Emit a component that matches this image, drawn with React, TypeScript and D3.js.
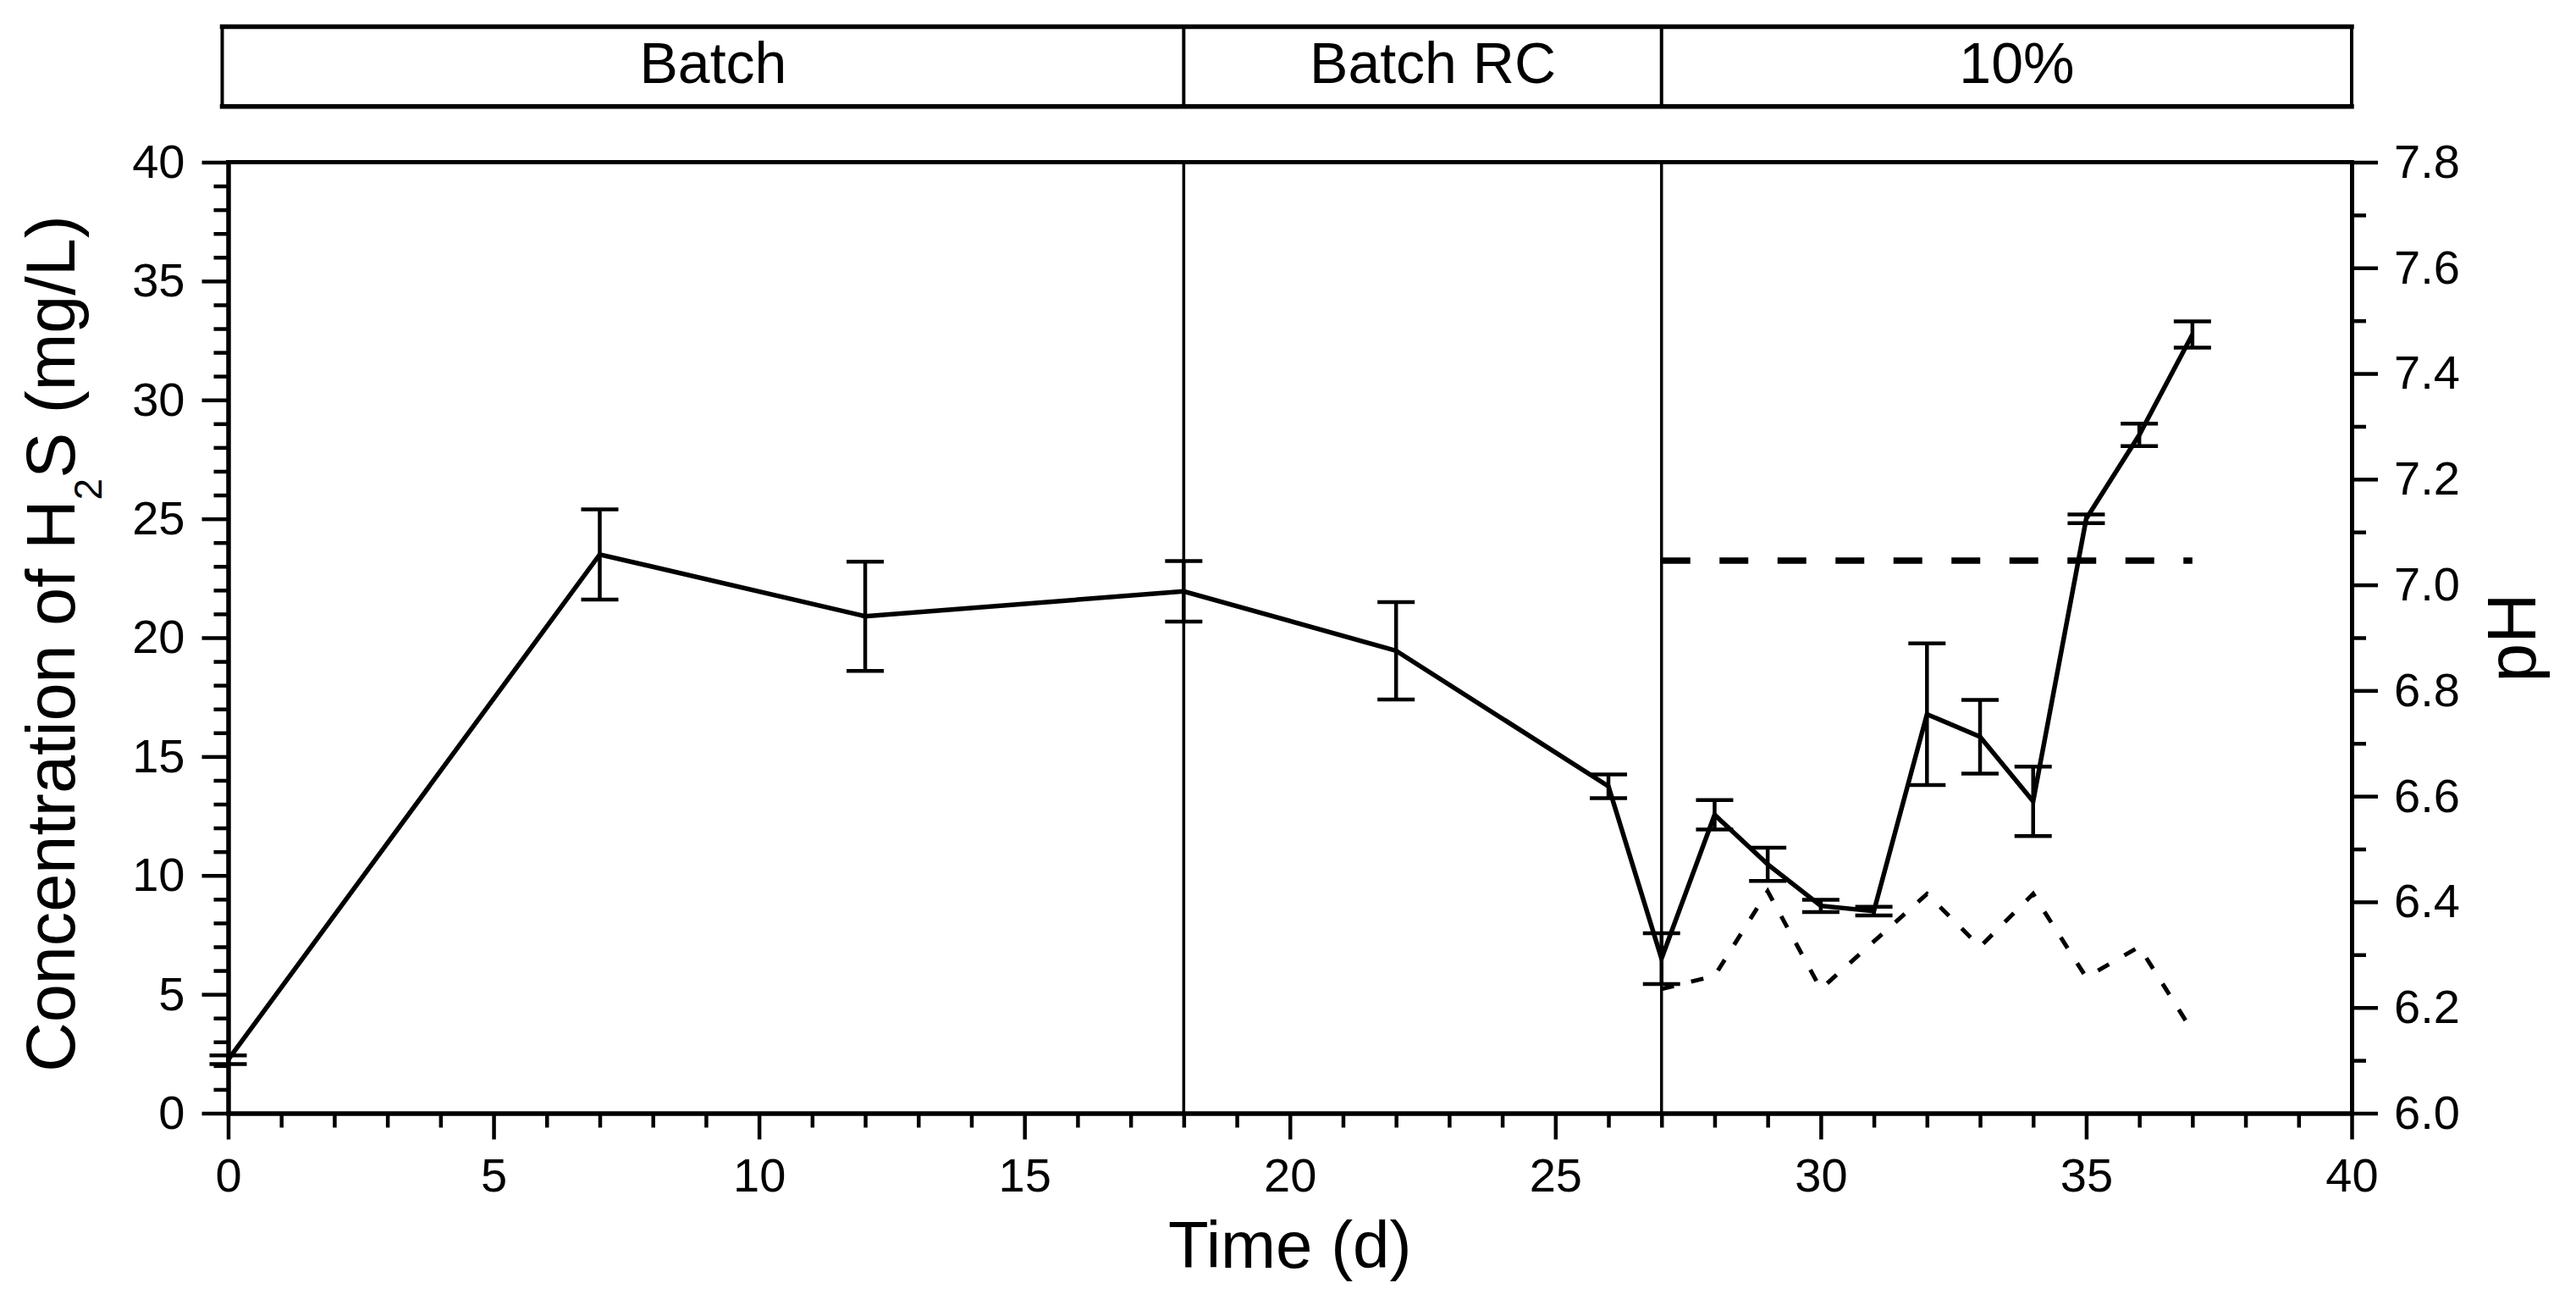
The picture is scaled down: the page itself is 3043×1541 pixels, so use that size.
import { useEffect, useRef } from 'react'
import * as d3 from 'd3'

// H2S concentration (mg/L), mean and error, per sampling day
const days = [0, 7, 12, 18, 22, 26, 27, 28, 29, 30, 31, 32, 33, 34, 35, 36, 37]
const h2s = [2.25, 23.5, 20.9, 21.95, 19.45, 13.75, 6.5, 12.55, 10.47, 8.72, 8.5, 16.78, 15.83, 13.12, 25.0, 28.53, 32.75]
const h2sErr = [0.18, 1.9, 2.3, 1.27, 2.05, 0.5, 1.07, 0.62, 0.7, 0.26, 0.18, 2.98, 1.55, 1.46, 0.18, 0.47, 0.55]

// pH (right axis)
const phDays = [27, 28, 29, 30, 31, 32, 33, 34, 35, 36, 37]
const ph = [6.235, 6.26, 6.42, 6.235, 6.325, 6.415, 6.315, 6.415, 6.257, 6.315, 6.155]

// pH set line
const setDays = [27, 37]
const setPH = [7.046, 7.046]

// operating phases
const phases = ['Batch', 'Batch RC', '10%']
const phaseEdges = [0, 18, 27, 40]

const xTicks = [0, 5, 10, 15, 20, 25, 30, 35, 40]
const yTicks = [0, 5, 10, 15, 20, 25, 30, 35, 40]
const phTicks = [6.0, 6.2, 6.4, 6.6, 6.8, 7.0, 7.2, 7.4, 7.6, 7.8]

const FONT = "'Liberation Sans', Arial, sans-serif"

export default function App() {
  const svgRef = useRef<SVGSVGElement>(null)

  useEffect(() => {
    document.body.style.margin = '0'
    if (!svgRef.current) return
    const svg = d3.select(svgRef.current)
    svg.selectAll('*').remove()

    const width = 3043
    const height = 1541
    svg.attr('width', width).attr('height', height)

    const left = 269.5
    const right = 2778
    const top = 191.5
    const bottom = 1314.5

    const x = d3.scaleLinear().domain([0, 40]).range([left, right])
    const y = d3.scaleLinear().domain([0, 40]).range([bottom, top])
    const yPH = d3.scaleLinear().domain([6.0, 7.8]).range([bottom, top])

    const styleAxis = (g: d3.Selection<SVGGElement, unknown, null, undefined>) => {
      g.select('.domain').attr('stroke', '#000').attr('stroke-width', 5).attr('stroke-linecap', 'square')
      g.selectAll('.tick line').attr('stroke', '#000').attr('stroke-width', 4.5)
      g.selectAll('.tick text')
        .attr('fill', '#000')
        .attr('font-family', FONT)
        .attr('font-size', 56)
    }

    const minorX = d3.range(0, 41).filter((d) => d % 5 !== 0)
    const minorY = d3.range(0, 41).filter((d) => d % 5 !== 0)
    const minorPH = d3.range(6.1, 7.8, 0.2)

    // minor ticks
    svg.append('g')
      .attr('transform', `translate(0,${bottom})`)
      .call(d3.axisBottom(x).tickValues(minorX).tickSize(17).tickSizeOuter(0).tickFormat(() => ''))
      .call(styleAxis)
    svg.append('g')
      .attr('transform', `translate(${left},0)`)
      .call(d3.axisLeft(y).tickValues(minorY).tickSize(17).tickSizeOuter(0).tickFormat(() => ''))
      .call(styleAxis)
    svg.append('g')
      .attr('transform', `translate(${right},0)`)
      .call(d3.axisRight(yPH).tickValues(minorPH).tickSize(17).tickSizeOuter(0).tickFormat(() => ''))
      .call(styleAxis)

    // major ticks
    svg.append('g')
      .attr('transform', `translate(0,${bottom})`)
      .call(d3.axisBottom(x).tickValues(xTicks).tickSize(31).tickSizeOuter(0).tickPadding(22).tickFormat(d3.format('d')))
      .call(styleAxis)
    svg.append('g')
      .attr('transform', `translate(${left},0)`)
      .call(d3.axisLeft(y).tickValues(yTicks).tickSize(31).tickSizeOuter(0).tickPadding(20).tickFormat(d3.format('d')))
      .call(styleAxis)
    svg.append('g')
      .attr('transform', `translate(${right},0)`)
      .call(d3.axisRight(yPH).tickValues(phTicks).tickSize(31).tickSizeOuter(0).tickPadding(19).tickFormat(d3.format('.1f')))
      .call(styleAxis)

    // top frame line
    svg.append('line')
      .attr('x1', left).attr('x2', right)
      .attr('y1', top).attr('y2', top)
      .attr('stroke', '#000').attr('stroke-width', 5).attr('stroke-linecap', 'square')

    // phase separators in plot
    phaseEdges.slice(1, -1).forEach((d) => {
      svg.append('line')
        .attr('x1', x(d)).attr('x2', x(d))
        .attr('y1', top).attr('y2', bottom)
        .attr('stroke', '#000').attr('stroke-width', 3.5)
    })

    // phase header box
    const boxTop = 31.5
    const boxBottom = 125.7
    const boxLeft = x(phaseEdges[0]) - 7
    const boxRight = x(phaseEdges[phaseEdges.length - 1])
    const box = svg.append('g')
    box.append('line').attr('x1', boxLeft).attr('x2', boxRight).attr('y1', boxTop).attr('y2', boxTop)
      .attr('stroke', '#000').attr('stroke-width', 5.5).attr('stroke-linecap', 'square')
    box.append('line').attr('x1', boxLeft).attr('x2', boxRight).attr('y1', boxBottom).attr('y2', boxBottom)
      .attr('stroke', '#000').attr('stroke-width', 5.5).attr('stroke-linecap', 'square')
    ;[boxLeft, ...phaseEdges.slice(1, -1).map((d) => x(d)), boxRight].forEach((px) => {
      box.append('line').attr('x1', px).attr('x2', px).attr('y1', boxTop).attr('y2', boxBottom)
        .attr('stroke', '#000').attr('stroke-width', 4)
    })
    phases.forEach((name, i) => {
      const a = i === 0 ? boxLeft : x(phaseEdges[i])
      const b = i === phases.length - 1 ? boxRight : x(phaseEdges[i + 1])
      box.append('text')
        .attr('x', (a + b) / 2 + 12)
        .attr('y', 98)
        .attr('text-anchor', 'middle')
        .attr('font-family', FONT)
        .attr('font-size', 68)
        .attr('fill', '#000')
        .text(name)
    })

    // pH set line
    const setData = setDays.map((d, i) => ({ d, v: setPH[i] }))
    svg.append('path')
      .datum(setData)
      .attr('fill', 'none')
      .attr('stroke', '#000')
      .attr('stroke-width', 7.5)
      .attr('stroke-dasharray', '34 34.5')
      .attr('d', d3.line<{ d: number; v: number }>().x((p) => x(p.d)).y((p) => yPH(p.v)))

    // pH dashed line
    const phData = phDays.map((d, i) => ({ d, v: ph[i] }))
    svg.append('path')
      .datum(phData)
      .attr('fill', 'none')
      .attr('stroke', '#000')
      .attr('stroke-width', 5)
      .attr('stroke-dasharray', '15 21')
      .attr('d', d3.line<{ d: number; v: number }>().x((p) => x(p.d)).y((p) => yPH(p.v)))

    // H2S line
    const h2sData = days.map((d, i) => ({ d, v: h2s[i], e: h2sErr[i] }))
    svg.append('path')
      .datum(h2sData)
      .attr('fill', 'none')
      .attr('stroke', '#000')
      .attr('stroke-width', 5.5)
      .attr('stroke-linejoin', 'miter')
      .attr('d', d3.line<{ d: number; v: number; e: number }>().x((p) => x(p.d)).y((p) => y(p.v)))

    // error bars
    const cap = 22
    const eb = svg.append('g').attr('stroke', '#000').attr('stroke-width', 4.5)
    h2sData.forEach((p) => {
      const cx = x(p.d)
      const y1 = y(p.v + p.e)
      const y2 = y(p.v - p.e)
      eb.append('line').attr('x1', cx).attr('x2', cx).attr('y1', y1).attr('y2', y2)
      eb.append('line').attr('x1', cx - cap).attr('x2', cx + cap).attr('y1', y1).attr('y2', y1)
      eb.append('line').attr('x1', cx - cap).attr('x2', cx + cap).attr('y1', y2).attr('y2', y2)
    })

    // axis titles
    svg.append('text')
      .attr('x', (left + right) / 2)
      .attr('y', 1497)
      .attr('text-anchor', 'middle')
      .attr('font-family', FONT)
      .attr('font-size', 78)
      .attr('fill', '#000')
      .text('Time (d)')

    const yTitle = svg.append('text')
      .attr('transform', `translate(88,760) rotate(-90)`)
      .attr('text-anchor', 'middle')
      .attr('font-family', FONT)
      .attr('font-size', 81)
      .attr('fill', '#000')
    yTitle.append('tspan').text('Concentration of H')
    yTitle.append('tspan').attr('font-size', 46).attr('dy', 32).text('2')
    yTitle.append('tspan').attr('dy', -32).text('S (mg/L)')

    svg.append('text')
      .attr('transform', `translate(2995,${(top + bottom) / 2}) rotate(-90)`)
      .attr('text-anchor', 'middle')
      .attr('font-family', FONT)
      .attr('font-size', 82)
      .attr('fill', '#000')
      .text('pH')
  }, [])

  return (
    <div>
      <svg ref={svgRef} style={{ display: 'block', background: '#fff' }}></svg>
    </div>
  )
}
